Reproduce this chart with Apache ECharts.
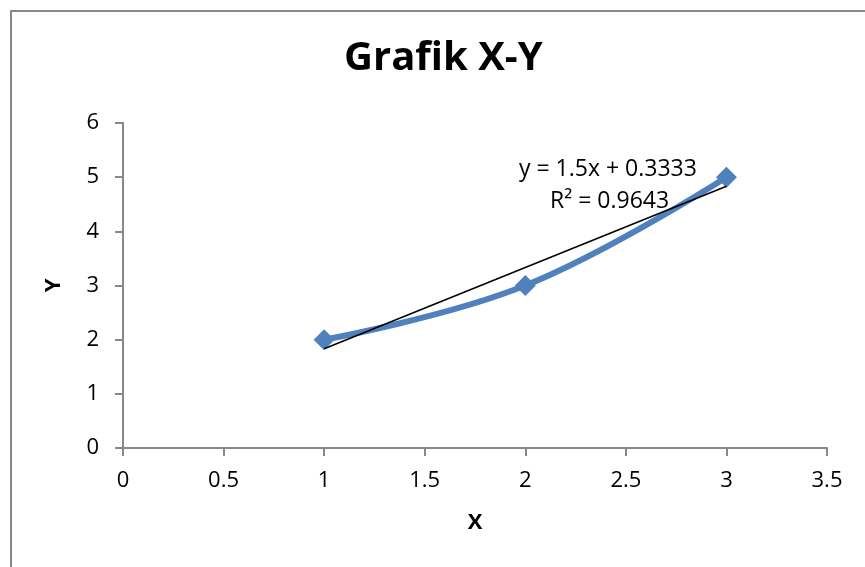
<!DOCTYPE html>
<html><head><meta charset="utf-8">
<script src="https://cdn.jsdelivr.net/npm/echarts@6/dist/echarts.min.js"></script>
<style>html,body{margin:0;padding:0;background:#fff}#c{width:865px;height:567px}</style>
</head><body><div id="c"></div>
<script>
const xValues = [1, 2, 3];
const yValues = [2, 3, 5];
const trendSlope = 1.5;
const trendIntercept = 0.3333;
const trendLabel = ['y = 1.5x + 0.3333', 'R² = 0.9643'];
const titleText = 'Grafik X-Y';

const font = '"Open Sans", sans-serif';
const data = xValues.map((x, i) => [x, yValues[i]]);
const trend = [xValues[0], xValues[xValues.length - 1]].map(x => [x, trendSlope * x + trendIntercept]);

const chart = echarts.init(document.getElementById('c'));
chart.setOption({
  animation: false,
  title: { text: titleText, left: 339, top: 34, textStyle: { fontFamily: font, fontSize: 40, fontWeight: 'bold', color: '#000' } },
  grid: { left: 123, right: 38, top: 123, bottom: 119 },
  graphic: [
    { type: 'rect', shape: { x: 11, y: 11, width: 900, height: 600 }, style: { fill: 'none', stroke: '#888', lineWidth: 2 }, silent: true },
    { type: 'text', left: 519, top: 158, style: { text: trendLabel[0], font: '23px ' + font, fill: '#000' } },
    { type: 'text', left: 550, top: 190, style: { text: trendLabel[1], font: '23px ' + font, fill: '#000' } }
  ],
  xAxis: {
    type: 'value', min: 0, max: 3.5, interval: 0.5,
    name: 'X', nameLocation: 'middle', nameGap: 64,
    nameTextStyle: { fontFamily: font, fontSize: 22, fontWeight: 'bold', color: '#000' },
    axisLine: { show: true, lineStyle: { color: '#888', width: 2 } },
    axisTick: { show: true, length: 8, lineStyle: { color: '#888', width: 2 } },
    axisLabel: { fontFamily: font, fontSize: 22, color: '#000', margin: 22 },
    splitLine: { show: false }
  },
  yAxis: {
    type: 'value', min: 0, max: 6, interval: 1,
    name: 'Y', nameLocation: 'middle', nameGap: 58,
    nameTextStyle: { fontFamily: font, fontSize: 22, fontWeight: 'bold', color: '#000' },
    axisLine: { show: true, lineStyle: { color: '#888', width: 2 } },
    axisTick: { show: true, length: 8, lineStyle: { color: '#888', width: 2 } },
    axisLabel: { fontFamily: font, fontSize: 22, color: '#000', margin: 24 },
    splitLine: { show: false }
  },
  series: [
    { type: 'line', data: data, smooth: 0.4, symbol: 'diamond', symbolSize: 21,
      lineStyle: { color: '#4F81BD', width: 6 }, itemStyle: { color: '#4F81BD' }, z: 2 },
    { type: 'line', data: trend, symbol: 'none', lineStyle: { color: '#000', width: 1.5 }, z: 3 }
  ]
});
</script></body></html>
